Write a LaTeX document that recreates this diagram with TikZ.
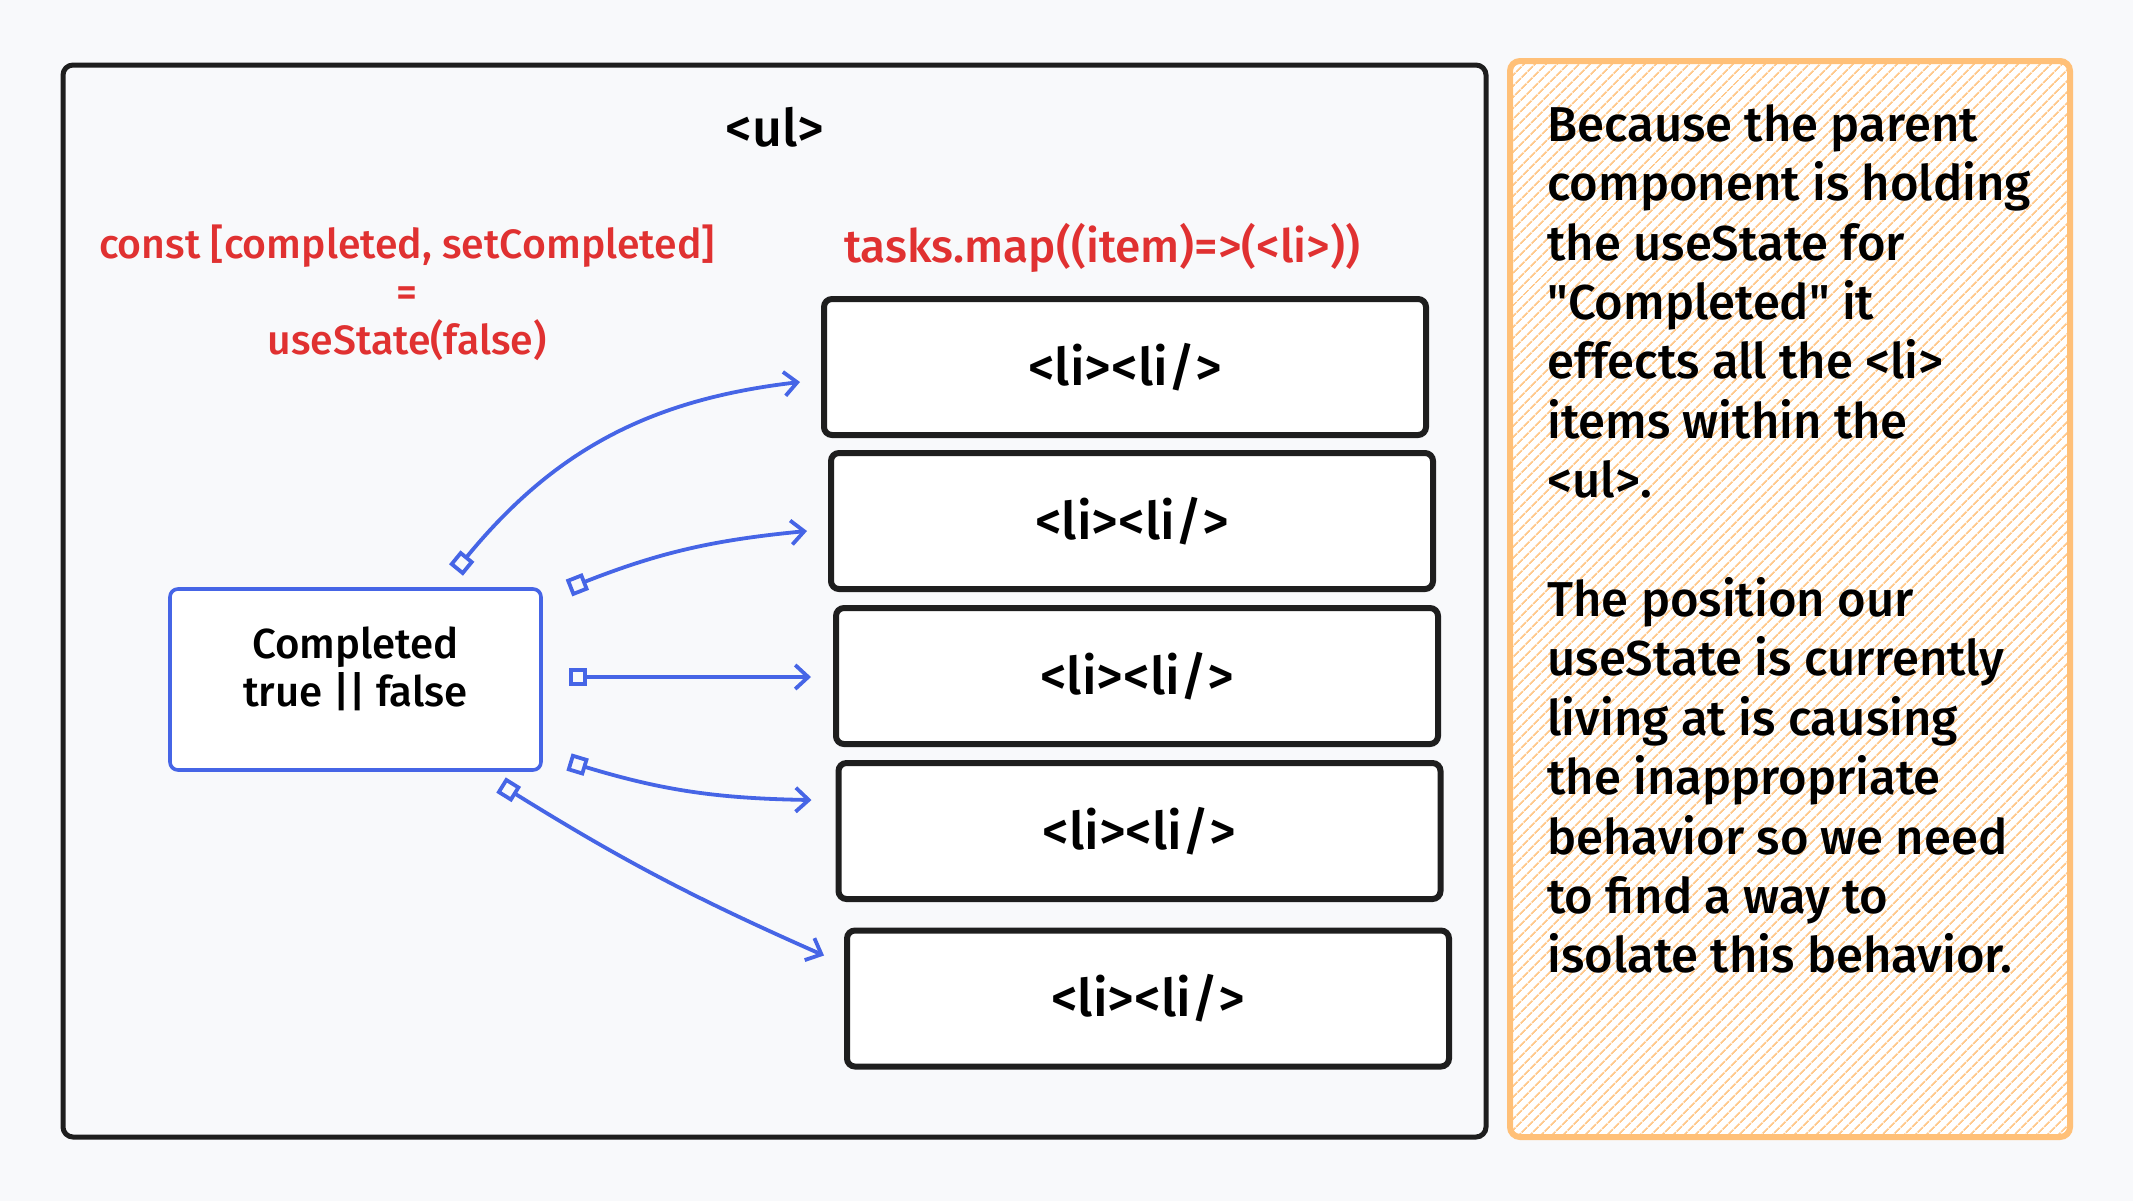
\documentclass[tikz,border=0pt]{standalone}
\usepackage{fontspec}
\newfontfamily\handfont{Fira Sans}[UprightFont={* Medium}]
\usetikzlibrary{arrows.meta,patterns.meta}
\definecolor{paper}{HTML}{F8F9FB}
\definecolor{ink}{HTML}{1E1E1E}
\definecolor{stateblue}{HTML}{4665E6}
\definecolor{codered}{HTML}{E03131}
\definecolor{noteorange}{HTML}{FFC078}
\tikzstyle{every node}+=[inner sep=0pt]
\tikzstyle{libox}=[draw=ink, line width=3pt, fill=white, rounded corners=4pt, minimum width=301pt, minimum height=68pt, font=\handfont\fontsize{26}{30}\selectfont]
\tikzstyle{link}=[draw=stateblue, line width=1.9pt, {Square[open,length=9pt]}-{Straight Barb[length=6.5pt,width=12pt]}]
\tikzstyle{codetext}=[text=codered, align=center, font=\handfont\fontsize{20.5}{24}\selectfont]

\begin{document}
\begin{tikzpicture}[x=0.5pt,y=-0.5pt]
\fill [paper] (0,0) rectangle (2133,1201);
\useasboundingbox (0,0) rectangle (2133,1201);

\node [draw=ink, line width=2.5pt, rounded corners=5pt, minimum width=711.5pt, minimum height=536pt] (ul) at (774.5,601) {};
\node [font=\handfont\fontsize{26}{30}\selectfont] (ultag) at (775,127) {<ul>};

\node [codetext] (hook) at (407,293) {const [completed, setCompleted]\\=\\useState(false)};
\node [codetext, font=\handfont\fontsize{23}{27}\selectfont] (tasks) at (1102,248) {tasks.map((item)=>(<li>))};

\node [libox] (li1) at (1125,367) {<li><li/>};
\node [libox] (li2) at (1132,521) {<li><li/>};
\node [libox] (li3) at (1137,676) {<li><li/>};
\node [libox] (li4) at (1139.5,831) {<li><li/>};
\node [libox] (li5) at (1148,998.5) {<li><li/>};

\node [draw=stateblue, line width=1.8pt, fill=white, rounded corners=4pt, minimum width=185.5pt, minimum height=90.5pt] (comp) at (355.5,679.5) {};
\node [align=center, font=\handfont\fontsize{21}{24}\selectfont] (comptext) at (355.5,669) {Completed\\true || false};

\coordinate (s1) at (456,570);
\coordinate (s2) at (569,588);
\coordinate (s3) at (569,677);
\coordinate (s4) at (569,762);
\coordinate (s5) at (501,785);

\draw [link] (s1) to[bend left=22] ([shift={(-21,15)}]li1.west);
\draw [link] (s2) to[bend left=8] ([shift={(-21,10)}]li2.west);
\draw [link] (s3) -- ([shift={(-22,1)}]li3.west);
\draw [link] (s4) to[bend right=8] ([shift={(-24,-31)}]li4.west);
\draw [link] (s5) to[bend right=4] ([shift={(-20,-43)}]li5.west);

\node [draw=noteorange, line width=3pt, rounded corners=5pt, preaction={fill=white}, pattern={Lines[angle=45,distance=4pt,line width=0.9pt]}, pattern color=noteorange!85, minimum width=280pt, minimum height=538pt] (note) at (1790,599) {};
\node [anchor=north west, align=left, font=\handfont\fontsize{24.5}{29.7}\selectfont] (notetext) at (1547,104) {Because the parent\\component is holding\\the useState for\\"Completed" it\\effects all the <li>\\items within the\\<ul>.\\[29.7pt]The position our\\useState is currently\\living at is causing\\the inappropriate\\behavior so we need\\to find a way to\\isolate this behavior.};
\end{tikzpicture}
\end{document}
